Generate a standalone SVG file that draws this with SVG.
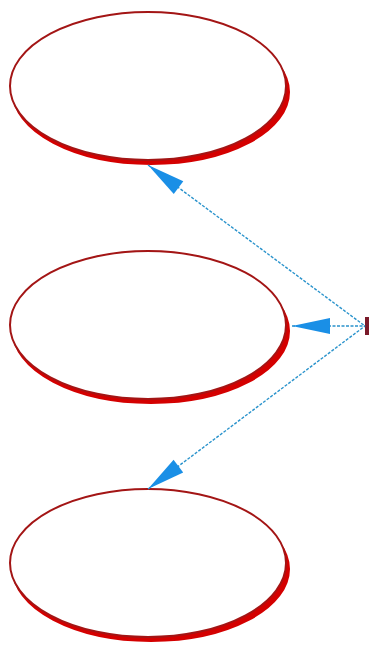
<svg xmlns="http://www.w3.org/2000/svg" width="369" height="645" viewBox="0 0 369 645">
<style>
.sh{fill:#d40000;stroke:#d40000;stroke-width:2}
.el{fill:#ffffff;stroke:#a31515;stroke-width:2}
.cn{fill:none;stroke:#2a93cc;stroke-width:1.4;stroke-dasharray:3 1.5}
</style>
<defs>
<marker id="ah" markerUnits="userSpaceOnUse" markerWidth="42" markerHeight="18" viewBox="0 0 42 18" refX="0" refY="9" orient="auto">
<path d="M0,9 L38,1 L38,17 Z" fill="#1a8fe6"/>
</marker>
</defs>
<rect width="369" height="645" fill="#ffffff"/>
<g id="node-top">
<ellipse class="sh" cx="151" cy="92" rx="138" ry="72"/>
<ellipse class="el" cx="148" cy="86" rx="138" ry="74"/>
</g>
<g id="node-middle">
<ellipse class="sh" cx="151" cy="331" rx="138" ry="72"/>
<ellipse class="el" cx="148" cy="325" rx="138" ry="74"/>
</g>
<g id="node-bottom">
<ellipse class="sh" cx="151" cy="569" rx="138" ry="72"/>
<ellipse class="el" cx="148" cy="563" rx="138" ry="74"/>
</g>
<g id="node-source">
<rect x="365" y="317" width="6" height="18" fill="#7a1a2a"/>
</g>
<g id="connectors">
<path class="cn" d="M148,165 L365,326" marker-start="url(#ah)"/>
<path class="cn" d="M292,326 L365,326" marker-start="url(#ah)"/>
<path class="cn" d="M148,489 L365,326" marker-start="url(#ah)"/>
</g>
</svg>
